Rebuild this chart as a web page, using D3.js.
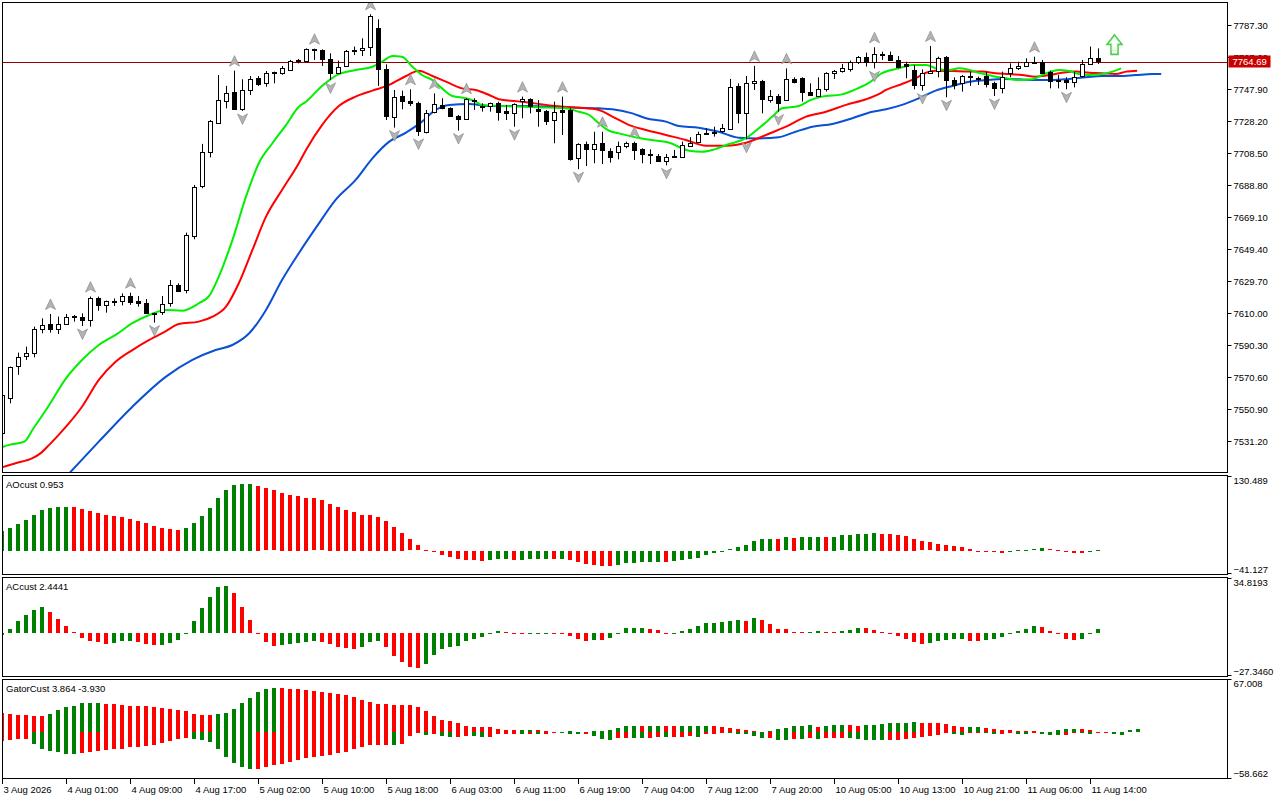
<!DOCTYPE html>
<html><head><meta charset="utf-8">
<script src="https://cdn.jsdelivr.net/npm/d3@7"></script>
<style>
body{margin:0;background:#fff;}
text{font-family:'Liberation Sans',Arial,sans-serif;font-size:9.5px;fill:#000;}
</style></head>
<body><svg id="c" width="1280" height="800"></svg>
<script>
// ---------------- DATA ----------------
const opens = [7535.9,7558.1,7577.4,7583.5,7585.2,7600.0,7603.2,7600.0,7603.2,7608.0,
7607.4,7605.3,7619.0,7614.7,7617.2,7617.6,7620.5,7617.4,7616.0,7609.4,
7610.2,7616.0,7627.0,7623.8,7657.8,7687.8,7708.9,7727.2,7740.1,7745.9,
7735.4,7747.3,7754.5,7751.4,7757.8,7757.6,7760.0,7765.2,7765.2,7771.9,
7771.9,7766.2,7758.0,7762.1,7771.7,7771.5,7773.6,7785.3,7760.0,7730.9,
7743.6,7740.5,7739.1,7721.0,7733.3,7738.1,7736.0,7731.3,7729.2,7740.5,
7737.4,7737.4,7739.5,7734.4,7732.9,7740.1,7741.6,7735.4,7734.4,7728.8,
7735.0,7735.0,7705.2,7714.1,7710.8,7714.5,7710.0,7708.9,7712.4,7714.5,
7710.8,7707.9,7706.7,7703.8,7706.5,7706.3,7713.0,7714.9,7720.2,7720.8,
7721.6,7723.7,7749.8,7732.9,7751.8,7752.8,7741.6,7743.8,7741.1,7754.1,
7754.5,7745.9,7743.2,7747.7,7757.6,7758.6,7760.6,7764.3,7767.4,7764.3,
7769.3,7768.8,7765.8,7763.3,7759.6,7750.4,7758.0,7758.6,7767.4,7753.5,
7751.4,7755.3,7754.3,7755.9,7751.4,7748.3,7757.6,7760.6,7762.1,7764.5,
7764.7,7758.6,7753.2,7753.5,7752.4,7755.5,7763.1,7766.8];
const highs = [7559.5,7577.0,7585.6,7589.3,7601.6,7606.7,7609.4,7607.8,7609.4,7608.8,
7609.8,7620.1,7620.1,7617.6,7619.0,7622.1,7622.5,7620.5,7618.6,7610.2,
7620.5,7630.3,7628.3,7659.5,7688.8,7714.1,7728.8,7756.5,7749.8,7759.2,
7753.9,7755.9,7755.9,7759.0,7758.6,7762.1,7765.8,7766.4,7772.9,7772.7,
7772.3,7769.9,7765.4,7771.9,7774.0,7779.1,7793.9,7790.8,7763.1,7747.3,
7746.9,7747.7,7740.1,7735.0,7745.2,7742.2,7736.6,7731.9,7742.2,7742.2,
7739.1,7739.5,7740.1,7738.1,7739.1,7743.2,7742.2,7741.1,7735.0,7740.1,
7743.2,7736.0,7714.5,7715.5,7721.6,7721.6,7711.4,7715.5,7715.5,7715.5,
7711.4,7710.8,7707.9,7707.9,7710.4,7715.5,7718.2,7721.6,7723.7,7724.7,
7726.4,7754.1,7751.4,7755.9,7762.1,7753.5,7747.3,7744.8,7760.6,7755.1,
7755.1,7751.4,7755.1,7758.2,7759.6,7763.3,7765.4,7768.2,7770.3,7773.6,
7770.9,7770.9,7768.2,7764.7,7762.7,7760.0,7774.4,7767.8,7768.2,7755.1,
7756.5,7758.6,7755.5,7758.6,7752.4,7758.6,7763.7,7764.7,7766.8,7767.8,
7765.8,7759.2,7756.5,7755.1,7758.6,7765.8,7774.0,7772.9];
const lows = [7533.0,7554.4,7571.9,7581.1,7582.7,7597.5,7597.9,7597.1,7602.6,7604.7,
7602.0,7601.6,7611.4,7610.2,7614.3,7614.7,7615.0,7613.9,7609.4,7604.1,
7608.8,7613.9,7623.0,7622.1,7655.4,7686.8,7705.8,7726.8,7736.0,7735.0,
7734.4,7744.2,7749.8,7749.3,7751.4,7756.7,7759.6,7763.7,7764.7,7765.8,
7762.1,7753.5,7757.2,7761.7,7768.8,7768.2,7768.2,7749.8,7728.8,7724.1,
7735.4,7737.4,7719.0,7720.6,7732.9,7735.4,7730.9,7722.3,7728.8,7735.0,
7734.0,7734.0,7728.4,7728.8,7724.7,7729.9,7732.9,7724.7,7725.7,7714.5,
7719.6,7703.8,7698.5,7700.5,7702.2,7701.7,7702.6,7704.6,7711.4,7704.2,
7702.2,7701.7,7703.4,7700.9,7706.3,7706.3,7712.4,7714.5,7719.6,7718.6,
7721.0,7722.7,7726.8,7716.9,7747.3,7732.9,7739.5,7734.0,7741.1,7751.4,
7740.1,7743.6,7743.2,7746.3,7754.1,7758.0,7758.6,7763.3,7761.7,7760.6,
7765.8,7765.4,7760.6,7754.5,7747.7,7746.9,7757.2,7755.1,7742.8,7747.7,
7746.3,7749.8,7750.4,7748.9,7743.6,7745.2,7755.1,7759.6,7761.7,7764.1,
7757.6,7748.3,7748.3,7747.7,7748.9,7755.1,7762.7,7763.3];
const closes = [7559.5,7577.0,7582.7,7585.2,7600.0,7602.6,7600.0,7603.2,7607.4,7608.2,
7605.3,7619.0,7614.7,7617.2,7617.6,7620.5,7617.0,7616.0,7609.8,7609.8,
7615.4,7627.0,7623.4,7657.8,7687.8,7708.9,7728.2,7741.1,7745.2,7735.4,
7747.3,7753.9,7751.0,7757.6,7758.2,7760.6,7765.4,7765.6,7772.3,7772.3,
7766.2,7757.6,7761.7,7771.3,7772.1,7772.9,7792.9,7760.0,7730.9,7743.2,
7740.5,7739.1,7721.6,7732.9,7738.5,7736.0,7731.3,7729.2,7741.6,7741.1,
7737.6,7739.1,7734.0,7732.9,7738.7,7741.6,7737.4,7734.2,7728.4,7733.5,
7733.5,7704.8,7714.1,7710.8,7714.1,7710.0,7706.3,7712.8,7714.5,7710.4,
7707.7,7707.1,7703.8,7706.3,7706.9,7713.4,7714.9,7720.0,7720.8,7721.2,
7723.7,7749.3,7732.9,7751.4,7752.8,7741.6,7743.8,7739.5,7753.9,7752.0,
7745.9,7743.8,7747.7,7757.6,7759.0,7760.6,7764.7,7767.4,7764.3,7769.5,
7769.7,7765.8,7761.7,7762.1,7750.4,7758.0,7759.2,7766.8,7753.0,7750.4,
7755.9,7755.7,7754.7,7750.8,7748.3,7755.1,7760.6,7762.1,7764.7,7764.7,
7758.0,7753.0,7753.7,7752.4,7755.5,7763.1,7766.8,7764.69];

// Alligator lines: [bar, price]
const lipsPts = [[-0.4,7526.7],[0.9,7528.8],[2.8,7530.8],[3.8,7538.0],[5.9,7553.4],[8.0,7569.8],[10.0,7581.1],[12.1,7590.3],[14.2,7596.5],[16.3,7603.7],[18.4,7608.8],[20.5,7611.9],[22.5,7611.4],[24.6,7616.0],[25.9,7620.5],[27.1,7632.4],[28.8,7654.9],[30.5,7681.6],[32.1,7702.2],[33.8,7714.5],[35.5,7725.7],[37.1,7737.0],[38.0,7740.1],[40.0,7749.8],[42.1,7757.1],[44.2,7759.6],[46.3,7761.6],[47.5,7764.7],[48.8,7768.2],[50.0,7767.8],[51.3,7761.6],[52.5,7756.5],[53.8,7753.4],[55.0,7748.3],[56.3,7743.6],[58.0,7742.2],[59.2,7740.1],[60.0,7738.1],[63.0,7737.4],[67.1,7736.6],[70.5,7736.0],[72.1,7733.9],[73.4,7731.9],[74.6,7726.8],[75.9,7722.2],[77.1,7720.6],[80.5,7716.9],[83.4,7714.8],[85.9,7709.9],[87.5,7709.3],[88.8,7710.4],[90.9,7714.0],[93.0,7717.6],[94.6,7723.7],[96.3,7730.9],[97.5,7736.0],[99.6,7737.4],[100.9,7740.7],[102.5,7743.2],[105.0,7744.6],[106.7,7747.7],[108.4,7751.8],[110.0,7757.6],[112.1,7760.6],[113.8,7762.7],[115.5,7762.7],[117.1,7760.0],[118.4,7759.6],[119.6,7760.6],[120.9,7759.6],[122.1,7757.9],[123.8,7755.9],[125.5,7754.5],[127.1,7753.4],[128.8,7753.9],[130.5,7757.6],[132.1,7759.6],[133.4,7759.0],[134.6,7757.1],[135.9,7756.5],[137.5,7757.1],[138.8,7758.6],[139.9,7760.6]];
const teethPts = [[-0.4,7514.4],[1.7,7517.5],[3.8,7520.6],[4.8,7523.6],[5.9,7528.8],[8.0,7540.0],[10.0,7552.3],[12.1,7568.8],[14.2,7580.0],[16.3,7587.2],[18.4,7593.4],[20.5,7598.9],[22.1,7603.2],[24.6,7604.7],[26.3,7607.7],[28.0,7613.9],[29.6,7628.3],[31.3,7648.8],[33.0,7669.3],[35.0,7685.7],[37.1,7702.2],[38.0,7710.4],[40.0,7725.7],[42.1,7737.4],[44.2,7743.2],[46.3,7746.9],[48.4,7750.4],[50.5,7755.9],[52.1,7759.2],[53.8,7755.9],[55.5,7752.4],[57.5,7748.3],[59.2,7747.3],[60.9,7744.2],[62.1,7741.6],[65.0,7740.1],[69.2,7737.4],[72.1,7736.4],[74.6,7735.0],[76.3,7730.9],[78.4,7725.7],[80.5,7722.7],[83.0,7719.6],[85.5,7716.5],[88.0,7713.0],[90.5,7713.0],[93.0,7714.8],[95.5,7719.6],[98.0,7724.7],[100.5,7730.9],[103.0,7733.9],[105.5,7738.1],[108.0,7741.6],[109.6,7744.8],[110.5,7747.3],[112.5,7751.0],[114.2,7754.5],[115.5,7757.9],[116.7,7759.2],[118.8,7759.0],[120.9,7758.6],[122.5,7758.6],[124.2,7757.6],[125.9,7757.1],[127.5,7756.5],[129.2,7755.5],[130.9,7756.5],[132.5,7757.9],[134.2,7758.6],[135.9,7757.9],[137.5,7757.6],[139.2,7757.1],[140.5,7758.6],[141.9,7759.2]];
const jawPts = [[8.4,7511.3],[12.1,7530.8],[16.3,7552.3],[20.5,7570.8],[23.8,7581.1],[26.7,7587.2],[28.8,7590.3],[30.9,7597.5],[33.0,7611.9],[35.0,7630.3],[37.1,7646.8],[39.4,7663.6],[41.7,7679.6],[44.2,7691.9],[46.3,7705.2],[48.4,7715.5],[50.5,7721.0],[52.5,7727.8],[54.2,7735.0],[55.9,7738.1],[58.4,7738.7],[60.9,7737.4],[65.0,7737.4],[69.2,7737.0],[72.1,7736.4],[74.6,7736.0],[76.3,7735.4],[78.8,7732.9],[80.5,7729.9],[83.0,7727.8],[84.6,7725.1],[87.1,7724.1],[89.6,7721.6],[92.1,7717.9],[94.6,7717.5],[97.1,7718.2],[99.2,7721.6],[101.3,7724.7],[103.8,7726.4],[106.3,7729.9],[108.8,7733.9],[110.5,7735.4],[112.5,7738.1],[114.6,7742.2],[116.7,7746.9],[118.8,7749.8],[120.9,7752.4],[123.0,7753.4],[125.0,7754.1],[127.1,7753.9],[129.2,7753.4],[131.3,7753.4],[133.4,7754.1],[135.5,7755.1],[137.5,7755.9],[139.6,7755.9],[141.7,7756.5],[143.8,7757.1],[144.9,7757.1]];

const fractalUp = [6,11,16,29,39,46,51,54,58,65,70,75,79,94,98,109,116,129];
const fractalDown = [10,19,30,41,49,52,57,64,72,83,93,97,109,115,118,124,133];
const signalArrows = [[139, 7781.2]];
const lastPrice = 7764.69;

const aoValues = [35.0,39.7,46.7,53.7,63.0,71.2,74.7,76.5,76.8,76.2,
73.5,69.5,66.0,62.5,60.7,59.0,55.5,52.0,48.4,43.2,
40.3,38.5,36.8,40.3,48.4,60.7,75.3,92.2,106.8,115.0,
116.7,116.9,113.2,108.6,105.1,101.0,97.5,95.7,92.2,91.6,
87.6,82.3,76.5,71.8,67.7,63.0,62.5,59.5,52.0,42.0,
31.5,19.3,8.8,1.0,-0.5,-7.0,-10.5,-14.6,-16.3,-16.5,
-17.5,-15.8,-14.6,-14.5,-16.3,-15.8,-14.6,-14.5,-14.4,-14.6,
-14.4,-16.3,-19.3,-23.3,-25.1,-26.8,-27.0,-25.1,-21.6,-21.5,
-19.8,-18.7,-18.6,-19.8,-18.1,-16.3,-14.6,-12.8,-7.6,-3.5,
-1.2,1.8,6.4,10.5,16.9,20.4,20.5,20.3,22.8,22.6,
22.8,22.9,24.5,24.3,24.5,26.3,28.0,29.2,29.3,30.9,
29.2,29.1,27.4,25.7,20.4,16.3,14.6,11.7,9.9,8.2,
6.4,2.9,-1.0,-1.2,-1.3,-3.5,-0.5,0.3,1.0,2.5,
4.7,2.3,0.3,-0.6,-2.9,-3.0,-0.6,0.953];
const acValues = [-1.5,2.5,7.5,11.3,14.4,16.3,13.2,8.8,4.4,0.6,
-3.1,-5.0,-5.7,-6.9,-6.3,-5.0,-4.9,-5.7,-6.9,-7.5,
-7.3,-6.3,-4.4,-0.4,7.5,15.7,22.6,28.9,29.5,25.1,
16.3,8.2,-0.4,-5.7,-8.2,-7.5,-6.9,-6.3,-5.7,-5.0,
-5.7,-6.9,-8.8,-9.4,-10.0,-8.8,-5.7,-5.0,-8.8,-14.4,
-18.2,-21.3,-22.0,-19.5,-13.8,-10.0,-8.8,-8.2,-5.0,-3.8,
-2.5,-0.4,1.0,0.8,-0.4,-0.5,-0.3,-0.2,-0.1,-0.3,
-0.4,-1.9,-3.8,-5.0,-4.4,-4.5,-3.1,0.2,3.1,3.2,
3.3,2.5,1.9,-0.4,-0.2,1.3,2.5,4.4,6.3,6.4,
7.1,7.7,8.2,7.5,9.4,8.2,5.7,2.5,2.4,0.4,
0.3,0.4,1.3,0.9,0.5,1.0,1.9,3.1,3.0,1.9,
0.4,-0.2,-1.7,-3.8,-5.7,-6.9,-6.3,-5.0,-4.4,-3.8,
-3.7,-5.0,-5.1,-4.4,-3.8,-2.5,0.1,1.5,2.5,4.4,
3.8,1.3,-0.6,-3.8,-4.4,-3.8,0.1,2.4441];
const gatorUpper = [24.0,22.8,21.5,21.4,20.7,20.6,22.8,28.3,32.1,33.3,
36.7,37.5,37.6,35.9,35.8,34.6,33.3,33.2,33.1,31.6,
30.8,29.5,27.8,27.0,23.6,21.9,21.8,22.8,24.9,29.5,
37.5,43.5,51.5,54.8,56.1,55.9,55.3,54.4,53.2,52.3,
51.0,49.4,48.1,46.8,44.7,40.9,38.4,35.9,35.4,34.8,
34.6,34.4,32.1,27.0,20.7,15.6,13.9,11.8,7.6,6.8,
6.7,6.6,4.6,3.0,2.9,3.0,3.1,3.0,1.7,0.3,
0.4,1.7,0.3,0.2,1.7,1.8,3.0,5.5,8.0,8.1,
8.0,8.1,8.2,8.1,8.0,8.1,8.2,8.3,8.4,8.0,
6.8,5.5,4.2,3.0,1.7,0.3,1.7,4.2,5.5,8.0,
8.1,9.3,6.8,8.0,9.3,9.4,9.2,8.0,9.3,9.4,
10.5,11.8,11.9,12.0,13.1,11.8,11.7,11.6,10.1,8.0,
6.8,6.9,7.0,5.5,4.2,3.0,2.9,1.7,1.6,1.5,
0.2,0.1,3.0,4.2,4.3,4.2,3.0,0.3,0.2,0.1,
0.2,3.0,3.864];
const gatorLower = [-11.4,-10.5,-9.3,-9.2,-15.6,-21.5,-24.5,-25.7,-28.3,-28.4,
-27.0,-25.7,-24.5,-22.4,-21.9,-21.5,-19.4,-18.6,-18.1,-16.9,
-14.3,-11.4,-8.4,-7.6,-8.9,-10.5,-13.1,-21.5,-31.6,-39.2,
-44.3,-47.3,-47.2,-44.7,-42.2,-40.9,-38.4,-35.9,-33.3,-32.1,
-30.0,-28.7,-27.0,-24.9,-21.5,-18.6,-16.5,-16.3,-16.0,-16.2,
-14.8,-5.5,-0.5,-3.4,-2.1,-4.6,-6.8,-5.9,-4.6,-4.7,
-6.8,-5.9,-3.0,-2.9,-2.8,-3.0,-2.9,-3.0,-2.9,-1.3,
-1.7,-3.0,-3.1,-3.0,-4.6,-8.9,-10.1,-7.6,-7.5,-7.6,
-7.7,-7.6,-5.9,-6.0,-5.9,-5.8,-5.7,-5.8,-3.0,-2.1,
-0.4,-1.3,-3.0,-3.1,-4.6,-7.6,-7.5,-10.1,-10.2,-8.9,
-9.0,-7.6,-8.9,-7.6,-7.5,-7.4,-7.6,-8.9,-9.7,-9.8,
-9.9,-9.7,-9.6,-8.9,-7.6,-5.9,-4.6,-3.4,-0.8,-2.1,
-3.4,-0.8,-0.7,-0.8,-2.1,-2.0,-0.8,-2.1,-2.2,-0.8,
-2.1,-3.4,-3.5,-3.4,-0.8,-0.9,-2.1,-0.8,-0.4,-2.1,
-3.93];

const priceTicks = [7787.30,7767.60,7747.90,7728.20,7708.50,7688.80,7669.10,7649.40,7629.70,7610.00,7590.30,7570.60,7550.90,7531.20];
const timeLabels = ["3 Aug 2026","4 Aug 01:00","4 Aug 09:00","4 Aug 17:00","5 Aug 02:00","5 Aug 10:00","5 Aug 18:00","6 Aug 03:00","6 Aug 11:00","6 Aug 19:00","7 Aug 04:00","7 Aug 12:00","7 Aug 20:00","10 Aug 05:00","10 Aug 13:00","10 Aug 21:00","11 Aug 06:00","11 Aug 14:00"];
const aoRange = [-41.127, 130.489];
const acRange = [-27.3460, 34.8193];
const gatorRange = [-58.662, 67.008];

// ---------------- LAYOUT ----------------
const svg = d3.select('#c');
const L = 2.5, R = 1227.5;
const P = { main:[2.5,472.5], ao:[475.5,574.5], ac:[577.5,676.5], gator:[679.5,778.5] };
const GREEN = '#008000', RED = '#ff0000';

const xs = d3.scaleLinear().domain([0,137]).range([2,1098]);
const py = d3.scaleLinear().domain([7531.20,7787.30]).range([441,25]);
const aoY = d3.scaleLinear().domain(aoRange).range([574,476]);
const acY = d3.scaleLinear().domain(acRange).range([676.5,577.5]);
const gY = d3.scaleLinear().domain(gatorRange).range([778.5,679.5]);

const defs = svg.append('defs');
Object.entries(P).forEach(([k,[t,b]])=>{
  defs.append('clipPath').attr('id','clip-'+k).append('rect')
    .attr('x',L+0.5).attr('y',t+0.5).attr('width',R-L-1).attr('height',b-t-1);
});
function panel(k){ return svg.append('g').attr('clip-path','url(#clip-'+k+')'); }

// ---------------- MAIN ----------------
const gm = panel('main');
// price line
gm.append('line').attr('x1',L).attr('x2',R)
  .attr('y1',Math.round(py(lastPrice))+0.5).attr('y2',Math.round(py(lastPrice))+0.5)
  .attr('stroke','#980000').attr('stroke-width',1);

const line = d3.line().x(d=>xs(d[0])).y(d=>py(d[1])).curve(d3.curveMonotoneX);
[[jawPts,'#0a50d2'],[teethPts,'#ff0000'],[lipsPts,'#00f000']].forEach(([pts,c])=>{
  gm.append('path').attr('d',line(pts)).attr('fill','none').attr('stroke',c).attr('stroke-width',2);
});

// candles
const idx = d3.range(opens.length);
const cg = gm.append('g');
cg.selectAll('line.w').data(idx).join('line').attr('class','w')
  .attr('x1',i=>Math.round(xs(i))+0.5).attr('x2',i=>Math.round(xs(i))+0.5)
  .attr('y1',i=>py(highs[i])).attr('y2',i=>py(lows[i]))
  .attr('stroke','#000').attr('stroke-width',1);
cg.selectAll('rect').data(idx).join('rect')
  .attr('x',i=>Math.round(xs(i))-1.5).attr('width',4)
  .attr('y',i=>Math.round(Math.min(py(opens[i]),py(closes[i])))+0.5)
  .attr('height',i=>Math.max(1,Math.round(Math.abs(py(opens[i])-py(closes[i])))))
  .attr('fill',i=>closes[i]>=opens[i]?'#fff':'#000')
  .attr('stroke','#000').attr('stroke-width',1);

// fractals
const upPath = 'M0,-5.5 L5,5 L0,2.2 L-5,5 Z';
const dnPath = 'M0,5.5 L5,-5 L0,-2.2 L-5,-5 Z';
gm.selectAll('path.fu').data(fractalUp).join('path').attr('class','fu')
  .attr('d',upPath).attr('transform',i=>`translate(${xs(i)+0.5},${py(highs[i])-9.5})`)
  .attr('fill','#b4b4b4').attr('stroke','#8a8a8a').attr('stroke-width',0.7);
gm.selectAll('path.fd').data(fractalDown).join('path').attr('class','fd')
  .attr('d',dnPath).attr('transform',i=>`translate(${xs(i)+0.5},${py(lows[i])+8})`)
  .attr('fill','#b4b4b4').attr('stroke','#8a8a8a').attr('stroke-width',0.7);

// signal arrow
const arrowPath = 'M0,0 L7.5,9.5 L3.5,9.5 L3.5,19.5 L-3.5,19.5 L-3.5,9.5 L-7.5,9.5 Z';
signalArrows.forEach(([b,p])=>{
  gm.append('path').attr('d',arrowPath).attr('transform',`translate(${xs(b)+0.5},${py(p)})`)
    .attr('fill','#fff').attr('stroke','#4ccc4c').attr('stroke-width',1.6);
  gm.append('path').attr('d',arrowPath).attr('transform',`translate(${xs(b)+0.5},${py(p)+1.6}) scale(0.72)`)
    .attr('fill','none').attr('stroke','#b8f2b8').attr('stroke-width',1);
});

// ---------------- INDICATORS ----------------
function histogram(k, vals, y, firstRising, useAbs){
  const g = panel(k);
  g.selectAll('rect').data(vals).join('rect')
    .attr('x',(d,i)=>Math.round(xs(i))-2).attr('width',4)
    .attr('y',d=>Math.round(Math.min(y(0),y(d))))
    .attr('height',d=>Math.max(1,Math.round(Math.abs(y(d)-y(0)))))
    .attr('shape-rendering','crispEdges')
    .attr('fill',(d,i)=>{
      const rising = i===0 ? firstRising : (useAbs ? Math.abs(d)>Math.abs(vals[i-1]) : d>vals[i-1]);
      return rising?GREEN:RED;
    });
}
histogram('ao', aoValues, aoY, true, false);
histogram('ac', acValues, acY, true, false);
histogram('gator', gatorUpper, gY, false, true);
histogram('gator', gatorLower, gY, false, true);

// ---------------- FRAMES ----------------
Object.values(P).forEach(([t,b])=>{
  svg.append('rect').attr('x',L).attr('y',t).attr('width',R-L).attr('height',b-t)
    .attr('fill','none').attr('stroke','#000').attr('stroke-width',1);
});

// ---------------- AXES ----------------
const ax = svg.append('g').attr('transform',`translate(${R},0)`)
  .call(d3.axisRight(py).tickValues(priceTicks).tickFormat(d3.format('.2f')).tickSize(4).tickPadding(2));
ax.select('.domain').remove();
ax.selectAll('text').style('font-family',"'Liberation Sans',Arial,sans-serif").style('font-size','9.5px');

function sideLabel(v, yTick, yText, fmt){
  svg.append('line').attr('x1',R).attr('x2',R+4).attr('y1',yTick).attr('y2',yTick).attr('stroke','#000');
  svg.append('text').attr('x',R+6).attr('y',yText).attr('dy','0.35em').text(fmt(v));
}
sideLabel(aoRange[1], 476.5, 481, d3.format('.3f'));
sideLabel(aoRange[0], 573.5, 569.5, d3.format('.3f'));
sideLabel(acRange[1], 578.5, 582.5, d3.format('.4f'));
sideLabel(acRange[0], 675.5, 671.5, d3.format('.4f'));
sideLabel(gatorRange[1], 679.5, 683.5, d3.format('.3f'));
sideLabel(gatorRange[0], 778.5, 773.5, d3.format('.3f'));

// price box (covers the 7767.60 tick label, as on the reference)
const pb = Math.round(py(lastPrice));
svg.append('rect').attr('x',R+1).attr('y',pb-6.5).attr('width',42).attr('height',12).attr('fill','#c80000');
svg.append('text').attr('x',R+5).attr('y',pb).attr('dy','0.35em').style('fill','#fff').text(lastPrice.toFixed(2));

// time axis
timeLabels.forEach((t,k)=>{
  const x = Math.round(xs(k*8))+0.5;
  svg.append('line').attr('x1',x).attr('x2',x).attr('y1',778.5).attr('y2',784).attr('stroke','#000');
  svg.append('text').attr('x',x+1).attr('y',793).text(t);
});

// panel titles
svg.append('text').attr('x',6).attr('y',488).text('AOcust '+aoValues[aoValues.length-1]);
svg.append('text').attr('x',6).attr('y',590).text('ACcust '+acValues[acValues.length-1]);
svg.append('text').attr('x',6).attr('y',692).text('GatorCust '+gatorUpper[gatorUpper.length-1]+' '+gatorLower[gatorLower.length-1].toFixed(3));
</script>
</body></html>
